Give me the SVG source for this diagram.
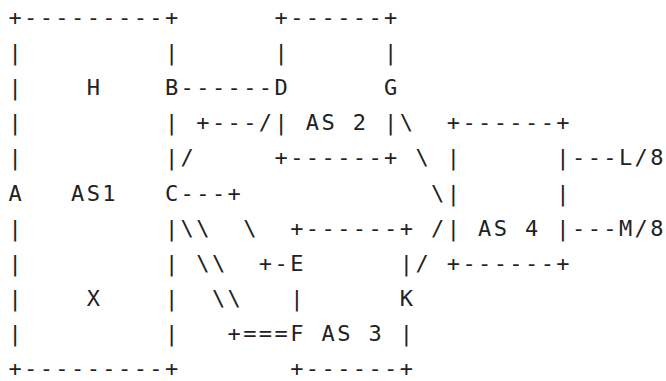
<svg xmlns="http://www.w3.org/2000/svg" width="666" height="381" viewBox="0 0 666 381">
<style>
text{font-family:"DejaVu Sans Mono","Liberation Mono",monospace;font-size:22px;letter-spacing:2.41px;fill:#222;white-space:pre}
</style>
<rect width="666" height="381" fill="#fff"/>
<g id="art" xml:space="preserve">
<text x="8.4" y="25">+---------+      +------+</text>
<text x="8.4" y="60.1">|         |      |      |</text>
<text x="8.4" y="95.2">|    H    B------D      G</text>
<text x="8.4" y="130.3">|         | +---/| AS 2 |\  +------+</text>
<text x="8.4" y="165.4">|         |/     +------+ \ |      |---L/8</text>
<text x="8.4" y="200.5">A   AS1   C---+            \|      |</text>
<text x="8.4" y="235.6">|         |\\  \  +------+ /| AS 4 |---M/8</text>
<text x="8.4" y="270.7">|         | \\  +-E      |/ +------+</text>
<text x="8.4" y="305.8">|    X    |  \\   |      K</text>
<text x="8.4" y="340.9">|         |   +===F AS 3 |</text>
<text x="8.4" y="376">+---------+       +------+</text>
</g>
</svg>
